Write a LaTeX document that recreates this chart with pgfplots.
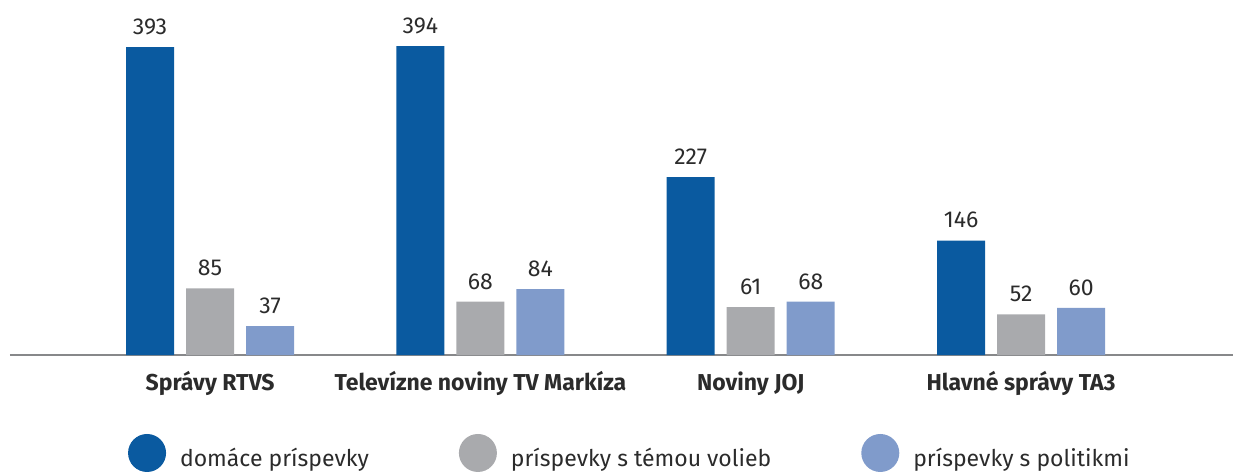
\documentclass[border=0pt]{standalone}
\usepackage{pgfplots}
\pgfplotsset{compat=1.18}
\usepackage{fontspec}
\setmainfont{Fira Sans}
\definecolor{cDark}{HTML}{0A5AA0}
\definecolor{cGray}{HTML}{A9AAAD}
\definecolor{cLight}{HTML}{809BCB}
\definecolor{cText}{HTML}{2B2B2B}
\begin{document}
\begin{tikzpicture}
\begin{axis}[
  name=ax,
  scale only axis,
  width=611.5pt, height=177.5pt,
  xmin=-0.74, xmax=3.784,
  ymin=0, ymax=453,
  ybar=6pt, bar width=24pt,
  hide y axis,
  axis x line*=bottom,
  x axis line style={draw=cGray!80!black, line width=0.6pt, -},
  xtick={0,1,2,3},
  xticklabels={Správy RTVS, Televízne noviny TV Markíza, Noviny JOJ, Hlavné správy TA3},
  major tick length=0pt,
  xticklabel style={font=\bfseries\fontsize{11.5}{13}\selectfont, text=cText, anchor=north, inner sep=0pt, yshift=-8pt},
  nodes near coords,
  /pgf/number format/assume math mode=true,
  every node near coord/.append style={font=\fontsize{11.5}{13}\selectfont, text=cText, anchor=south, inner sep=0pt, yshift=6pt},
  legend columns=3,
  legend style={draw=none, fill=none, at={(0.506,-0.276)}, anchor=center,
    font=\fontsize{11.5}{13}\selectfont, text=cText,
    nodes={inner sep=0pt},
    /tikz/every odd column/.append style={column sep=7pt},
    /tikz/every even column/.append style={column sep=45pt}},
  clip=false,
]
\addplot[fill=cDark, draw=none, legend image code/.code={\fill[cDark] (9.5pt,3pt) circle (9.5pt);}] coordinates {(0,393) (1,394) (2,227) (3,146)};
\addplot[fill=cGray, draw=none, legend image code/.code={\fill[cGray] (9.5pt,3pt) circle (9.5pt);}] coordinates {(0,85) (1,68) (2,61) (3,52)};
\addplot[fill=cLight, draw=none, legend image code/.code={\fill[cLight] (9.5pt,3pt) circle (9.5pt);}] coordinates {(0,37) (1,84) (2,68) (3,60)};
\legend{domáce príspevky, príspevky s témou volieb, príspevky s politikmi}
\end{axis}
\pgfresetboundingbox
\path ([xshift=-5pt,yshift=-58.5pt]ax.south west) rectangle (ax.north east);
\end{tikzpicture}
\end{document}
